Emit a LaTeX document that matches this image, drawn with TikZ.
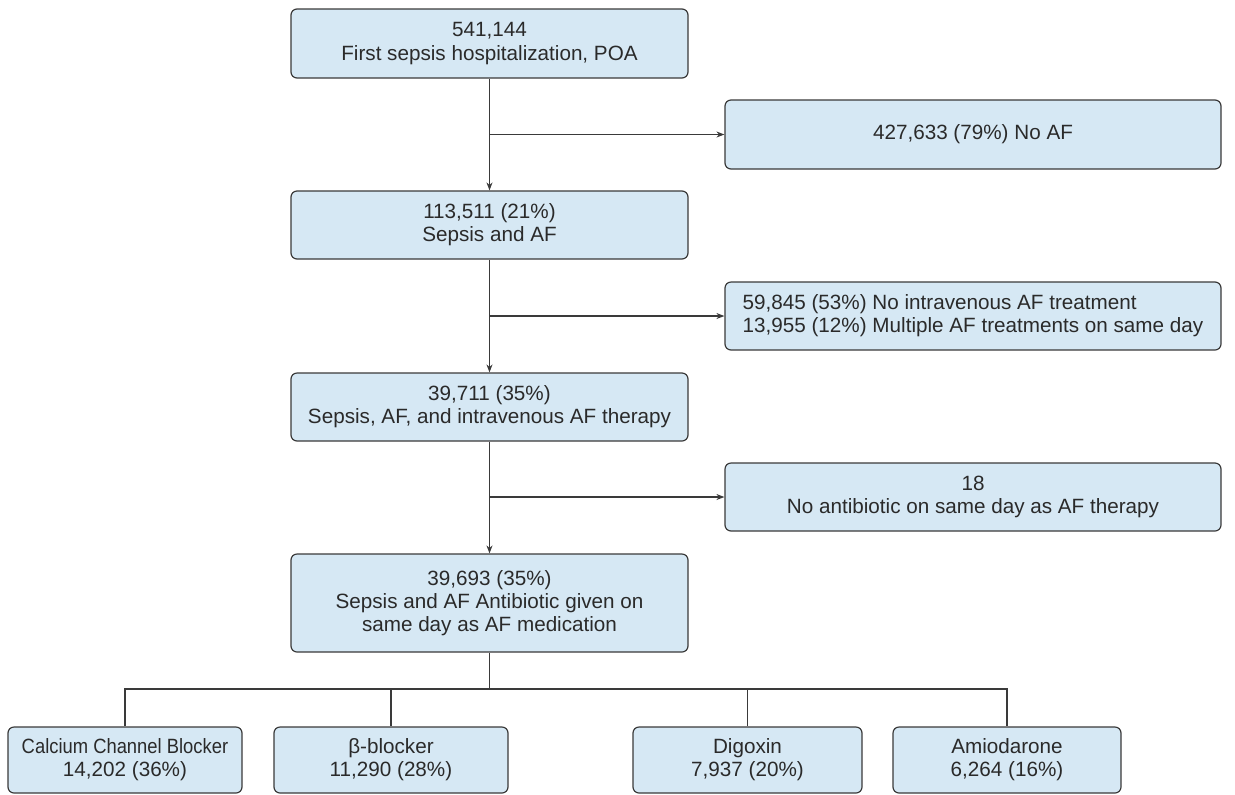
\documentclass[tikz,border=0pt]{standalone}
\usepackage{fontspec}
\setmainfont{Liberation Sans}
\newfontfamily\narrowfont[FakeStretch=0.89]{Liberation Sans}
\usetikzlibrary{arrows.meta}
\definecolor{boxfill}{HTML}{D6E8F4}
\definecolor{boxline}{HTML}{3A3A3A}
\definecolor{txt}{HTML}{2A2A2A}
\begin{document}
\begin{tikzpicture}[x=0.75pt,y=-0.75pt,
  box/.style={draw=boxline, fill=boxfill, rounded corners=4.5pt, line width=0.9pt, align=center, inner sep=0pt, font=\fontsize{15.5}{17.3}\selectfont, text=txt},
  mainbox/.style={box, minimum width=297.75pt},
  sidebox/.style={box, minimum width=372pt, minimum height=51pt},
  botbox/.style={box, minimum height=49.5pt},
  conn/.style={draw=boxline, line width=0.8pt},
  arr/.style={conn, -{Stealth[length=6pt,width=4.5pt]}}]
\useasboundingbox (0,0) rectangle (1235,794);
% main column
\node[mainbox, minimum height=51.75pt] (b1) at (489.5,43.5) {541,144\\First sepsis hospitalization, POA};
\node[mainbox, minimum height=51pt] (b2) at (489.5,225) {113,511 (21\%)\\Sepsis and AF};
\node[mainbox, minimum height=51pt] (b3) at (489.5,407) {39,711 (35\%)\\Sepsis, AF, and intravenous AF therapy};
\node[mainbox, minimum height=73.5pt] (b4) at (489.5,603) {39,693 (35\%)\\Sepsis and AF Antibiotic given on\\same day as AF medication};
% side boxes
\node[sidebox, minimum height=51.75pt] (s1) at (973,134.5) {427,633 (79\%) No AF};
\node[sidebox, align=left] (s2) at (973,316) {59,845 (53\%) No intravenous AF treatment\\13,955 (12\%) Multiple AF treatments on same day};
\node[sidebox] (s3) at (973,497) {18\\No antibiotic on same day as AF therapy};
% bottom boxes
\node[botbox, minimum width=175.5pt] (ccb) at (125,760) {{\narrowfont Calcium Channel Blocker}\\14,202 (36\%)};
\node[botbox, minimum width=175.5pt] (beta) at (391,760) {β-blocker\\11,290 (28\%)};
\node[botbox, minimum width=171.75pt] (dig) at (747.5,760) {Digoxin\\7,937 (20\%)};
\node[botbox, minimum width=171pt] (amio) at (1007,760) {Amiodarone\\6,264 (16\%)};
% connectors
\draw[arr] (b1) -- (b2);
\draw[arr] (b2) -- (b3);
\draw[arr] (b3) -- (b4);
\coordinate (j1) at (489.5,134.5);
\coordinate (j2) at (489.5,316);
\coordinate (j3) at (489.5,497);
\draw[arr] (j1) -- (s1.west);
\draw[arr] (j2) -- (s2.west);
\draw[arr] (j3) -- (s3.west);
\coordinate (hb) at (489.5,689);
\draw[conn] (b4.south) -- (hb);
\draw[conn] (ccb.north) |- (hb) -| (amio.north);
\draw[conn] (beta.north) -- (beta.north |- hb);
\draw[conn] (dig.north) -- (dig.north |- hb);
\end{tikzpicture}
\end{document}
